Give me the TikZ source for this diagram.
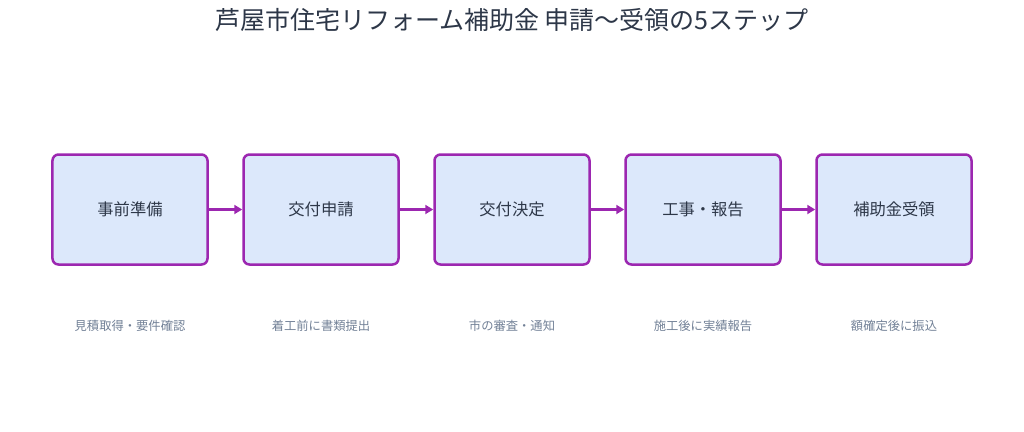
\documentclass[tikz,border=0pt]{standalone}
\usepackage{fontspec}
\setmainfont{Noto Sans CJK JP}
\usetikzlibrary{arrows.meta}
\definecolor{boxfill}{HTML}{DCE8FB}
\definecolor{boxline}{HTML}{9C27B0}
\definecolor{txt}{HTML}{2D3748}
\definecolor{sub}{HTML}{718096}
\begin{document}
\begin{tikzpicture}[x=1bp,y=-1bp,
  stepbox/.style={draw=boxline,line width=2.5bp,fill=boxfill,rounded corners=6bp,
    minimum width=155bp,minimum height=110bp,inner sep=0pt,
    font=\fontsize{16.3bp}{19bp}\selectfont,text=txt},
  sublabel/.style={font=\fontsize{12.3bp}{14bp}\selectfont,text=sub},
  conn/.style={draw=boxline,line width=2.5bp,-{Triangle[length=8bp,width=9bp]}}]
\useasboundingbox (0,0) rectangle (1024,431);
\node[font=\fontsize{25bp}{29bp}\selectfont,text=txt] (title) at (512,20) {芦屋市住宅リフォーム補助金 申請〜受領の5ステップ};
\node[stepbox] (s1) at (130,209.5) {事前準備};
\node[stepbox] (s2) at (321,209.5) {交付申請};
\node[stepbox] (s3) at (512,209.5) {交付決定};
\node[stepbox] (s4) at (703,209.5) {工事・報告};
\node[stepbox] (s5) at (894,209.5) {補助金受領};
\node[sublabel] (l1) at (130,326) {見積取得・要件確認};
\node[sublabel] (l2) at (321,326) {着工前に書類提出};
\node[sublabel] (l3) at (512,326) {市の審査・通知};
\node[sublabel] (l4) at (703,326) {施工後に実績報告};
\node[sublabel] (l5) at (894,326) {額確定後に振込};
\draw[conn] (s1) -- (s2);
\draw[conn] (s2) -- (s3);
\draw[conn] (s3) -- (s4);
\draw[conn] (s4) -- (s5);
\end{tikzpicture}
\end{document}
